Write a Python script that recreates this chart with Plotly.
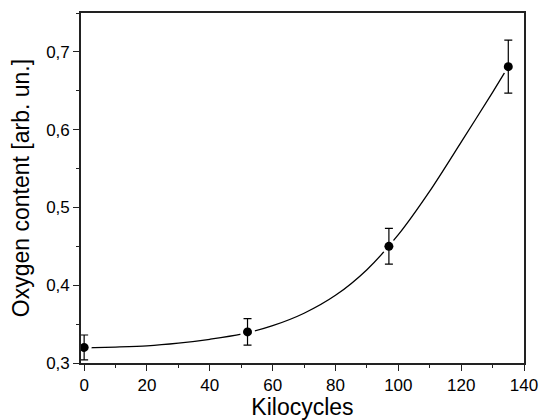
import plotly.graph_objects as go

# measured data
kilocycles = [0, 52, 97, 135]
oxygen = [0.320, 0.340, 0.450, 0.681]
oxygen_err = [0.016, 0.017, 0.023, 0.034]

# fit curve
fit_x = [0, 10, 20, 30, 40, 50, 60, 70, 80, 90, 100, 110, 120, 130, 135]
fit_y = [0.3195, 0.3205, 0.322, 0.3255, 0.3305, 0.337, 0.348, 0.364, 0.387,
         0.420, 0.465, 0.521, 0.584, 0.648, 0.681]

x_ticks = [0, 20, 40, 60, 80, 100, 120, 140]
y_ticks = [0.3, 0.4, 0.5, 0.6, 0.7]

fig = go.Figure()
fig.add_trace(go.Scatter(x=fit_x, y=fit_y, mode="lines",
                         line=dict(color="black", width=1.3, shape="spline", smoothing=0.8),
                         hoverinfo="skip", showlegend=False))
# white halo around markers
fig.add_trace(go.Scatter(x=kilocycles, y=oxygen, mode="markers",
                         marker=dict(color="white", size=15),
                         hoverinfo="skip", showlegend=False))
fig.add_trace(go.Scatter(x=kilocycles, y=oxygen, mode="markers",
                         marker=dict(color="black", size=9),
                         error_y=dict(type="data", array=oxygen_err, visible=True,
                                      color="black", thickness=1.2, width=4),
                         showlegend=False))

font = "Liberation Sans, Arial, sans-serif"
axis_common = dict(showline=True, linecolor="#222222", linewidth=1.6, mirror=True,
                   ticks="outside", ticklen=6, tickwidth=1.2, tickcolor="#222222",
                   showgrid=False, zeroline=False, automargin=False,
                   tickfont=dict(family=font, size=17, color="black"))

fig.update_layout(
    width=542, height=420,
    margin=dict(l=81, r=18, t=13, b=57),
    paper_bgcolor="white", plot_bgcolor="white",
    separators=",.",
    font=dict(family=font, color="black"),
    xaxis=dict(range=[-1, 140], tickvals=x_ticks,
               minor=dict(dtick=10, ticks="outside", ticklen=3.5, tickwidth=1.2,
                          tickcolor="#222222", tick0=0),
               title=dict(text="Kilocycles", font=dict(family=font, size=23), standoff=6),
               **axis_common),
    yaxis=dict(range=[0.3, 0.75], tickvals=y_ticks, tickformat=".1f",
               minor=dict(dtick=0.05, ticks="outside", ticklen=3.5, tickwidth=1.2,
                          tickcolor="#222222", tick0=0.3),
               title=dict(text="Oxygen content [arb. un.]", font=dict(family=font, size=23),
                          standoff=10),
               **axis_common),
)

fig.write_html("out.html")
